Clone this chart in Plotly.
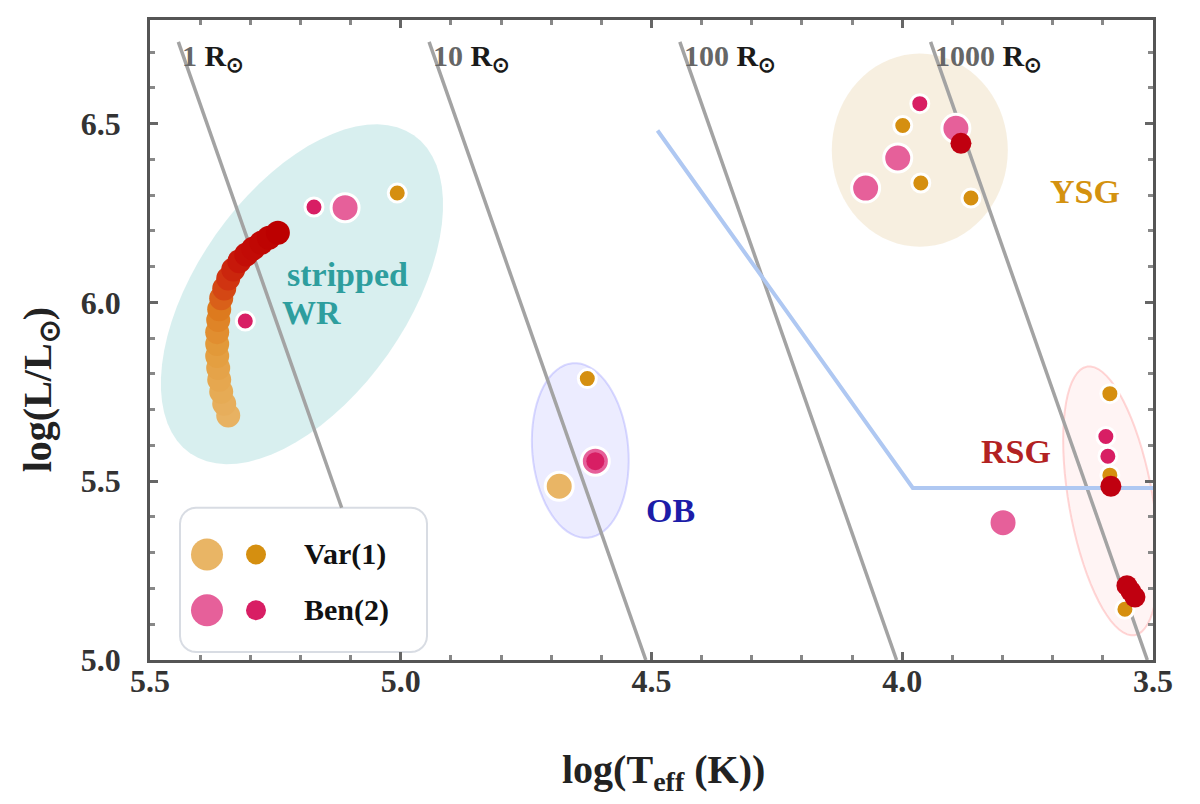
import numpy as np
import plotly.graph_objects as go

# ---------------- axes / ticks ----------------
X_RANGE = [5.5, 3.5]
Y_RANGE = [5.0, 6.79]
x_tickvals = [5.5, 5.0, 4.5, 4.0, 3.5]
x_ticktext = ["5.5", "5.0", "4.5", "4.0", "3.5"]
y_tickvals = [5.0, 5.5, 6.0, 6.5]
y_ticktext = ["5.0", "5.5", "6.0", "6.5"]

# ---------------- data ----------------
# evolutionary track (colour = evolutionary phase)
track_logT = [5.344, 5.352, 5.358, 5.362, 5.364, 5.366, 5.366, 5.366, 5.364, 5.362,
              5.358, 5.352, 5.344, 5.334, 5.322, 5.308, 5.294, 5.278, 5.263, 5.245]
track_logL = [5.684, 5.717, 5.750, 5.784, 5.817, 5.850, 5.884, 5.917, 5.951, 5.981,
              6.012, 6.039, 6.067, 6.092, 6.115, 6.134, 6.151, 6.167, 6.181, 6.195]
track_phase = [0.00, 0.05, 0.10, 0.15, 0.20, 0.26, 0.32, 0.38, 0.44, 0.50,
               0.56, 0.62, 0.67, 0.72, 0.77, 0.82, 0.86, 0.90, 0.95, 1.00]

# set (1): big = light orange, small = dark orange
big1_logT = [4.684]
big1_logL = [5.486]
small1_logT = [5.007, 4.628, 3.999, 3.963, 3.863, 3.586, 3.586, 3.556]
small1_logL = [6.306, 5.787, 6.495, 6.334, 6.292, 5.745, 5.517, 5.142]

# set (2): big = pink, small = magenta
big2_logT = [5.111, 4.612, 3.893, 4.009, 4.073, 3.799]
big2_logL = [6.265, 5.556, 6.487, 6.404, 6.320, 5.384]
small2_logT = [5.310, 5.173, 4.612, 3.965, 3.594, 3.590]
small2_logL = [5.948, 6.267, 5.556, 6.556, 5.625, 5.570]

# dark red end-points
red_logT = [3.883, 3.584, 3.552, 3.544, 3.536]
red_logL = [6.445, 5.486, 5.208, 5.192, 5.176]

# Humphreys-Davidson-like limit
hd_logT = [4.488, 3.979, 3.5]
hd_logL = [6.481, 5.481, 5.481]

# constant radius lines
radii = [1, 10, 100, 1000]
radius_text = ["1", "10", "100", "1000"]
LOG_TSUN = np.log10(5772.0)

# group regions (centre logT, centre logL)
region_logT = [5.197, 4.642, 3.965, 3.584]
region_logL = [6.023, 5.586, 6.426, 5.445]

# group labels
label_text = ["stripped", "WR", "OB", "YSG", "RSG"]
label_logT = [5.107, 5.177, 4.462, 3.636, 3.774]
label_logL = [6.078, 5.973, 5.417, 6.309, 5.584]
label_color = ["#2E9E9E", "#2E9E9E", "#1C1CA8", "#D4920F", "#B22222"]

legend_names = ["Var(1)", "Ben(2)"]

# ---------------- layout geometry ----------------
W, H = 1200, 804
PX_L, PX_R, PX_T, PX_B = 142, 1145, 9, 652
FONT = "Liberation Serif"


def d2p(T, L):
    px = PX_L + (T - X_RANGE[0]) / (X_RANGE[1] - X_RANGE[0]) * (PX_R - PX_L)
    py = PX_B - (L - Y_RANGE[0]) / (Y_RANGE[1] - Y_RANGE[0]) * (PX_B - PX_T)
    return px, py


def p2d(px, py):
    T = X_RANGE[0] + (px - PX_L) / (PX_R - PX_L) * (X_RANGE[1] - X_RANGE[0])
    L = Y_RANGE[0] + (PX_B - py) / (PX_B - PX_T) * (Y_RANGE[1] - Y_RANGE[0])
    return T, L


def ellipse_path(T0, L0, a, b, ang):
    cx, cy = d2p(T0, L0)
    th = np.radians(ang)
    t = np.linspace(0, 2 * np.pi, 73)
    xs = cx + a * np.cos(t) * np.cos(th) - b * np.sin(t) * np.sin(th)
    ys = cy - (a * np.cos(t) * np.sin(th) + b * np.sin(t) * np.cos(th))
    pts = [p2d(x, y) for x, y in zip(xs, ys)]
    return "M " + " L ".join(f"{p[0]:.5f},{p[1]:.5f}" for p in pts) + " Z"


def rrect_path(x0, y0, x1, y1, r):
    pts = []
    for (cx, cy, a0) in [(x1 - r, y0 + r, 270), (x1 - r, y1 - r, 0),
                         (x0 + r, y1 - r, 90), (x0 + r, y0 + r, 180)]:
        for k in range(7):
            a = np.radians(a0 + 15 * k)
            pts.append(p2d(cx + r * np.cos(a), cy + r * np.sin(a)))
    return "M " + " L ".join(f"{p[0]:.5f},{p[1]:.5f}" for p in pts) + " Z"


fig = go.Figure()

# region ellipses
region_style = [
    dict(a=195, b=105, ang=55, fill="rgba(100,190,190,0.25)", line="rgba(100,190,190,0.0)"),
    dict(a=88, b=48, ang=95, fill="rgba(150,150,255,0.18)", line="rgba(150,150,255,0.35)"),
    dict(a=97, b=88, ang=90, fill="rgba(225,190,130,0.25)", line="rgba(225,190,130,0.0)"),
    dict(a=137, b=42, ang=100, fill="rgba(255,150,150,0.10)", line="rgba(255,140,140,0.35)"),
]
for T0, L0, st in zip(region_logT, region_logL, region_style):
    fig.add_shape(type="path", path=ellipse_path(T0, L0, st["a"], st["b"], st["ang"]),
                  fillcolor=st["fill"], line=dict(color=st["line"], width=2), layer="below")

# legend box (pixel box relative to plot origin)
lb = (PX_L + 30, PX_B - 153, PX_L + 277, PX_B - 8)
fig.add_shape(type="path", path=rrect_path(*lb, 16),
              fillcolor="rgba(255,255,255,0.95)", line=dict(color="rgba(200,205,215,0.7)", width=2),
              layer="below")

# radius lines
L_top = p2d(0, PX_T + 22)[1]
L_bottom_first = p2d(0, lb[1])[1]
for R, txt in zip(radii, radius_text):
    Lmin = L_bottom_first if R == 1 else Y_RANGE[0]
    Ls = [Lmin, L_top]
    Ts = [LOG_TSUN + (L - 2 * np.log10(R)) / 4.0 for L in Ls]
    fig.add_trace(go.Scatter(x=Ts, y=Ls, mode="lines", line=dict(color="#A3A3A3", width=3.5),
                             hoverinfo="skip", showlegend=False))
    px, py = d2p(Ts[1], Ls[1])
    Tl, Ll = p2d(px + 2, PX_T + 38)
    fig.add_annotation(x=Tl, y=Ll, xref="x", yref="y", xanchor="left", yanchor="middle",
                       text=f"<span style='color:#666'>{txt}</span> R<sub>⊙</sub>",
                       showarrow=False, font=dict(family=FONT, size=30, color="#1a1a1a", weight="bold"))

# HD limit
fig.add_trace(go.Scatter(x=hd_logT, y=hd_logL, mode="lines",
                         line=dict(color="#AFC8F2", width=4), hoverinfo="skip", showlegend=False))

OUT = dict(color="white", width=3)
C_BIG1, C_SMALL1 = "#E9B565", "#D58F10"
C_BIG2, C_SMALL2 = "#E6609A", "#D81E64"
S_BIG, S_SMALL = 28, 18

fig.add_trace(go.Scatter(x=big1_logT, y=big1_logL, mode="markers",
                         marker=dict(size=S_BIG, color=C_BIG1, line=OUT), showlegend=False))
fig.add_trace(go.Scatter(x=big2_logT, y=big2_logL, mode="markers",
                         marker=dict(size=S_BIG, color=C_BIG2, line=OUT), showlegend=False))
fig.add_trace(go.Scatter(x=track_logT, y=track_logL, mode="markers",
                         marker=dict(size=24, color=track_phase, cmin=0, cmax=1,
                                     colorscale=[[0, "#E8B262"], [0.3, "#E39C3C"], [0.5, "#DD7A1E"],
                                                 [0.65, "#D23A12"], [0.8, "#C41008"], [1, "#BC0000"]],
                                     line=dict(width=0)), showlegend=False))
fig.add_trace(go.Scatter(x=small1_logT, y=small1_logL, mode="markers",
                         marker=dict(size=S_SMALL, color=C_SMALL1, line=OUT), showlegend=False))
small2_lw = [3 if not (abs(T - 4.612) < 1e-6) else 0 for T in small2_logT]
fig.add_trace(go.Scatter(x=small2_logT, y=small2_logL, mode="markers",
                         marker=dict(size=S_SMALL, color=C_SMALL2,
                                     line=dict(color="white", width=small2_lw)), showlegend=False))
fig.add_trace(go.Scatter(x=red_logT, y=red_logL, mode="markers",
                         marker=dict(size=21, color="#C00010", line=dict(width=0)), showlegend=False))

# group labels
for t, T, L, c in zip(label_text, label_logT, label_logL, label_color):
    fig.add_annotation(x=T, y=L, text=t, showarrow=False, xanchor="center", yanchor="middle",
                       font=dict(family=FONT, size=34, color=c, weight="bold"))

# manual legend
rows_py = [PX_B - 106, PX_B - 50]
for py, name, cb, cs in zip(rows_py, legend_names, [C_BIG1, C_BIG2], [C_SMALL1, C_SMALL2]):
    Tb, Lr = p2d(PX_L + 57, py)
    Ts_, _ = p2d(PX_L + 106, py)
    Tt, _ = p2d(PX_L + 152, py)
    fig.add_trace(go.Scatter(x=[Tb], y=[Lr], mode="markers",
                             marker=dict(size=S_BIG + 4, color=cb), showlegend=False, hoverinfo="skip"))
    fig.add_trace(go.Scatter(x=[Ts_], y=[Lr], mode="markers",
                             marker=dict(size=S_SMALL + 2, color=cs), showlegend=False, hoverinfo="skip"))
    fig.add_annotation(x=Tt, y=Lr, text=name, showarrow=False, xanchor="left", yanchor="middle",
                       font=dict(family=FONT, size=30, color="#111", weight="bold"))

# axis titles
fig.add_annotation(x=(655 - PX_L) / (PX_R - PX_L), y=(PX_B - 765) / (PX_B - PX_T), xref="paper", yref="paper",
                   text="log(T<sub>eff</sub> (K))", showarrow=False, xanchor="center", yanchor="middle",
                   font=dict(family=FONT, size=40, color="#222", weight="bold"))
fig.add_annotation(x=(32 - PX_L) / (PX_R - PX_L), y=(PX_B - 381) / (PX_B - PX_T), xref="paper", yref="paper",
                   text="log(L/L<sub>⊙</sub>)", showarrow=False, textangle=-90, xanchor="center", yanchor="middle",
                   font=dict(family=FONT, size=40, color="#222", weight="bold"))

axis_common = dict(showline=True, mirror="ticks", linecolor="#555", linewidth=2.5,
                   ticks="inside", ticklen=8, tickwidth=3, tickcolor="#666",
                   minor=dict(ticks="inside", ticklen=5, tickwidth=3, tickcolor="#888", dtick=0.1),
                   showgrid=False, zeroline=False,
                   tickfont=dict(family=FONT, size=32, color="#333", weight="bold"))

fig.update_layout(
    width=W, height=H, plot_bgcolor="white", paper_bgcolor="white",
    margin=dict(l=PX_L, r=W - PX_R, t=PX_T, b=H - PX_B),
    xaxis=dict(range=X_RANGE, tickvals=x_tickvals, ticktext=x_ticktext, ticklabelstandoff=-9, **axis_common),
    yaxis=dict(range=Y_RANGE, tickvals=y_tickvals, ticktext=y_ticktext, ticklabelstandoff=20, **axis_common),
    showlegend=False,
)

fig.write_html("out.html")
